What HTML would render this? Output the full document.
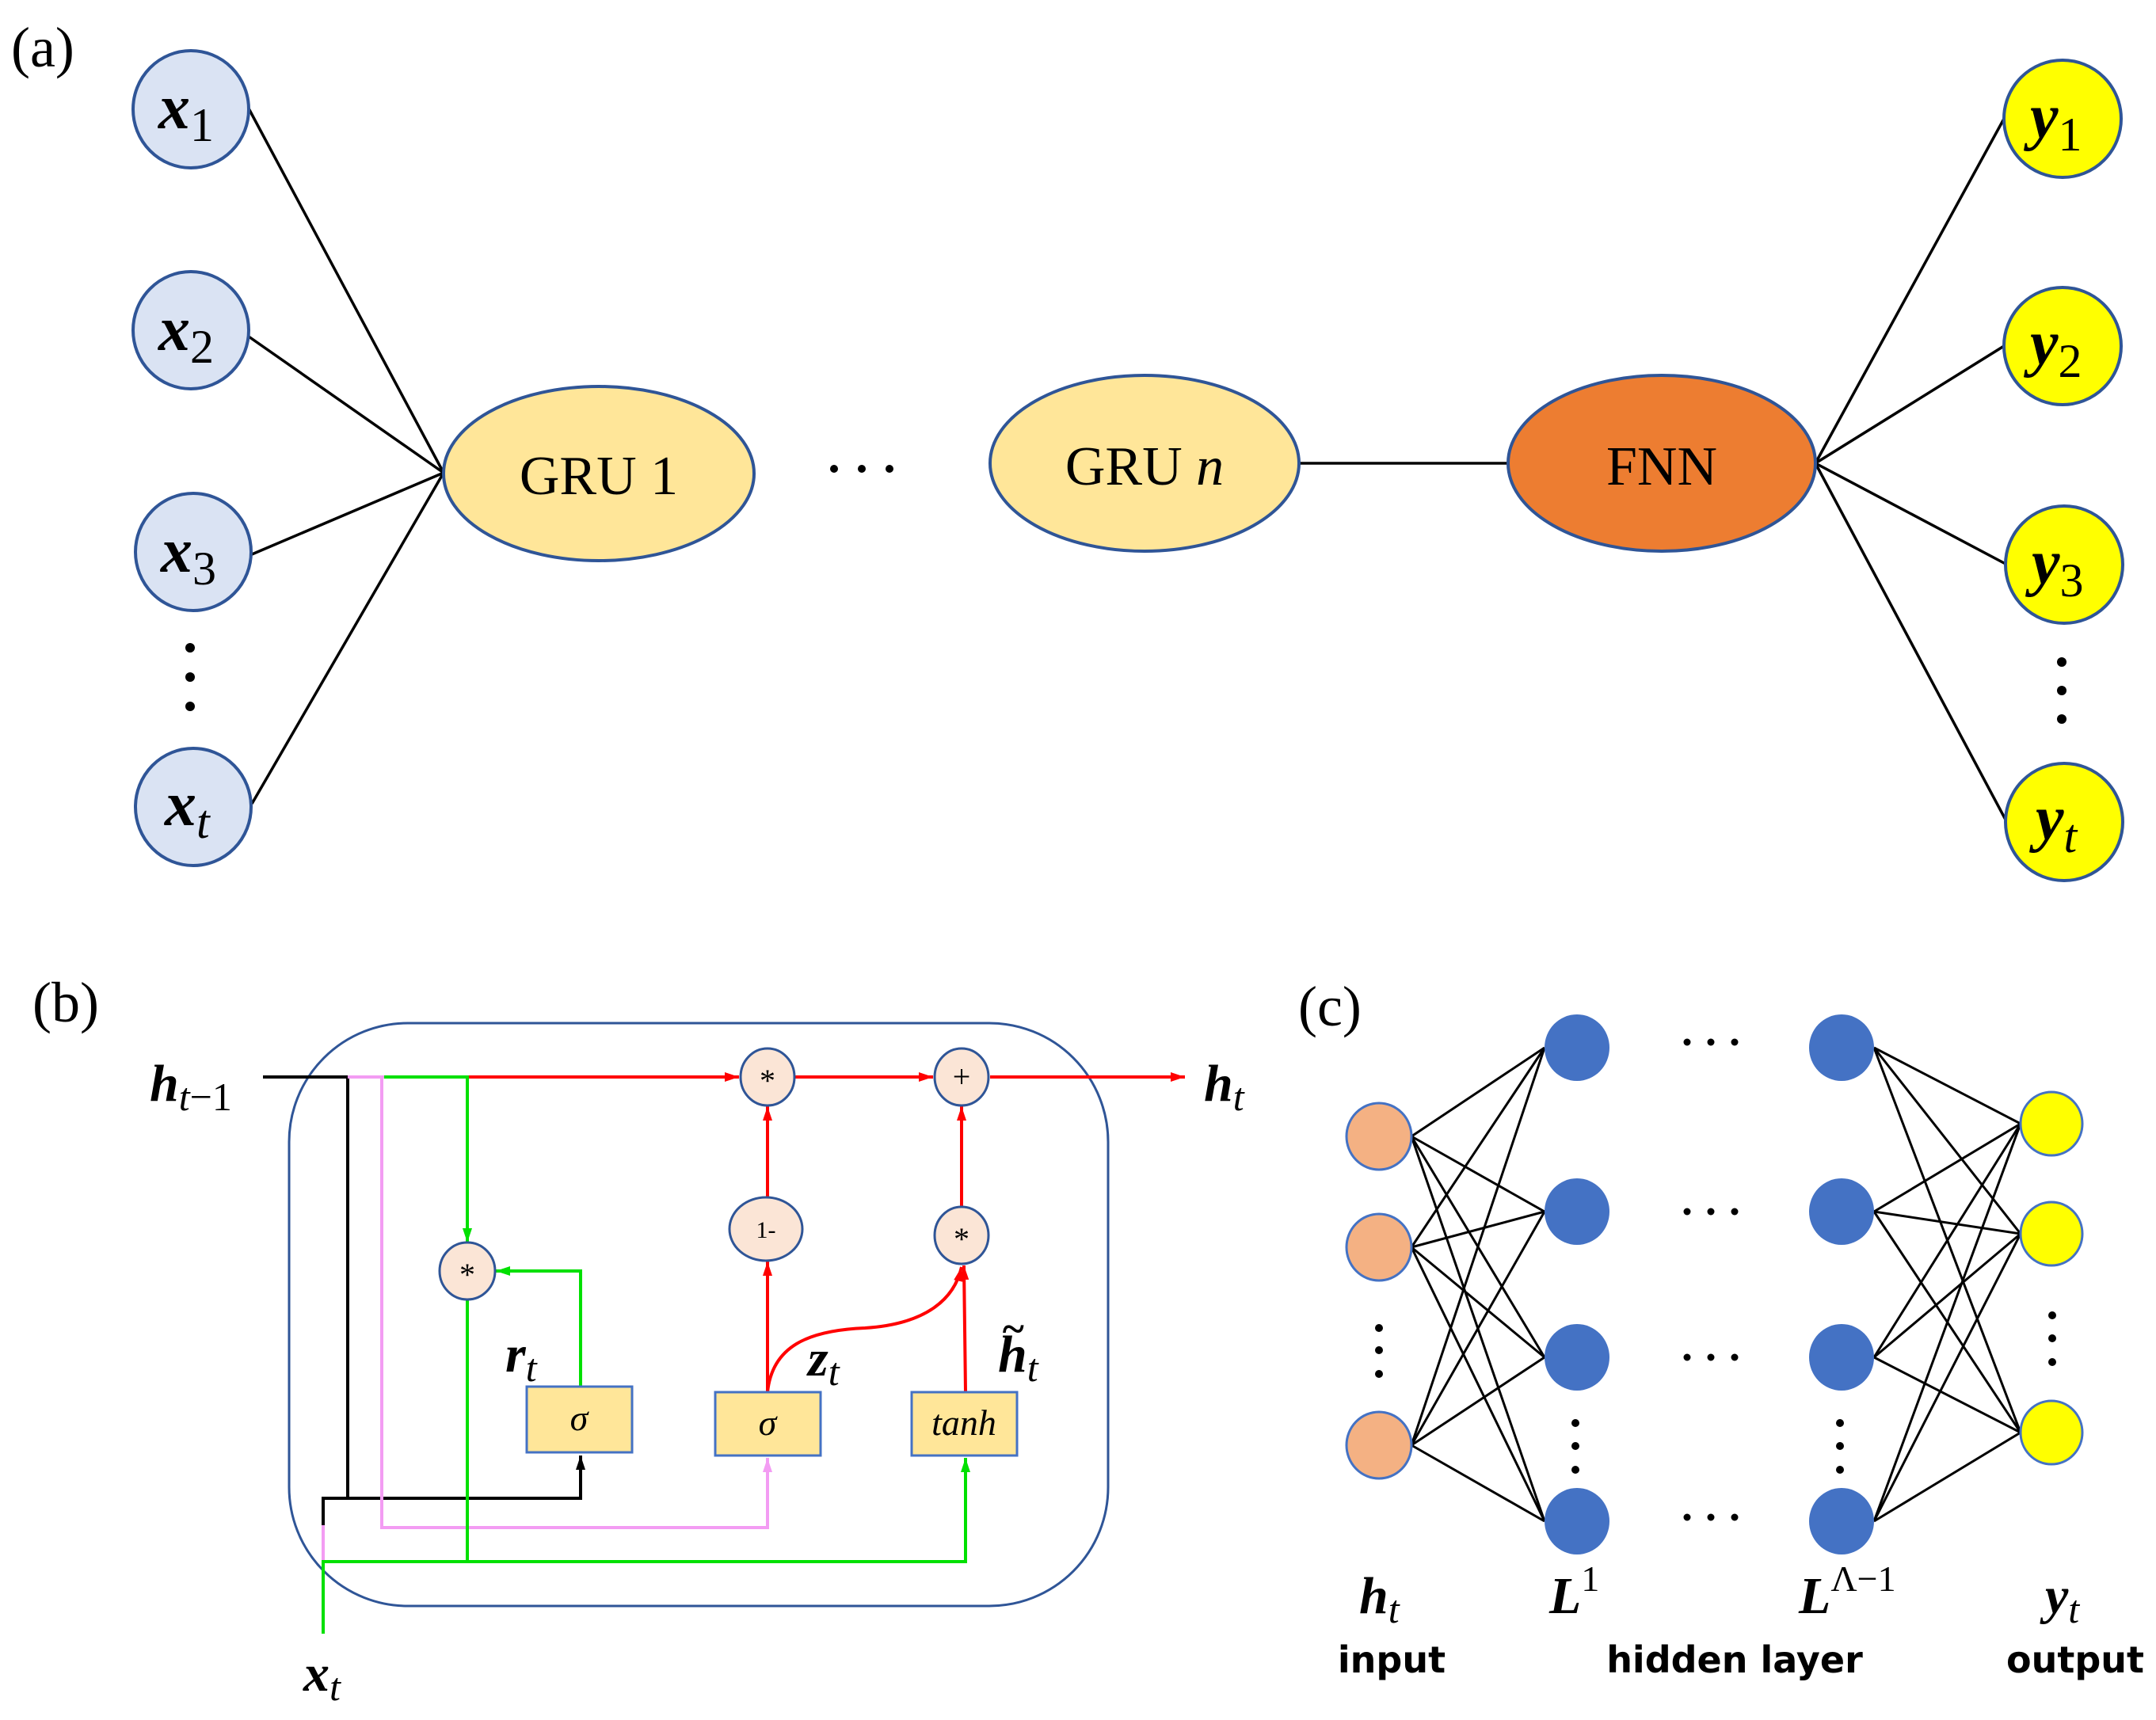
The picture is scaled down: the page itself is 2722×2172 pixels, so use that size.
<!DOCTYPE html>
<html><head><meta charset="utf-8"><style>html,body{margin:0;padding:0;background:#fff}svg{display:block}</style></head><body>
<svg width="2722" height="2172" viewBox="0 0 2722 2172" xmlns="http://www.w3.org/2000/svg" font-family="Liberation Serif, serif">
<defs>
<marker id="ar2" markerWidth="20" markerHeight="16" refX="18" refY="8" orient="auto" markerUnits="userSpaceOnUse"><path d="M0,2 L18,8 L0,14z" fill="#f00"/></marker>
<marker id="ag" markerWidth="20" markerHeight="16" refX="18" refY="8" orient="auto" markerUnits="userSpaceOnUse"><path d="M0,2 L18,8 L0,14z" fill="#00e000"/></marker>
<marker id="ap" markerWidth="20" markerHeight="16" refX="18" refY="8" orient="auto" markerUnits="userSpaceOnUse"><path d="M0,2 L18,8 L0,14z" fill="#f39cf3"/></marker>
<marker id="ak" markerWidth="20" markerHeight="16" refX="18" refY="8" orient="auto" markerUnits="userSpaceOnUse"><path d="M0,2 L18,8 L0,14z" fill="#000"/></marker>
</defs>

<!-- (a) -->
<text x="14" y="84" font-size="72">(a)</text>
<g stroke="#000" stroke-width="3.5">
<line x1="314" y1="137" x2="560" y2="597"/>
<line x1="314" y1="425" x2="560" y2="597"/>
<line x1="318" y1="700" x2="560" y2="597"/>
<line x1="318" y1="1015" x2="560" y2="597"/>
<line x1="1639" y1="585" x2="1904" y2="585"/>
<line x1="2292" y1="585" x2="2530" y2="150"/>
<line x1="2292" y1="585" x2="2530" y2="437"/>
<line x1="2292" y1="585" x2="2532" y2="712"/>
<line x1="2292" y1="585" x2="2532" y2="1035"/>
</g>
<g fill="#DAE3F3" stroke="#2F5597" stroke-width="4">
<ellipse cx="241" cy="138" rx="73" ry="74"/>
<ellipse cx="241" cy="417" rx="73" ry="74"/>
<ellipse cx="244" cy="697" rx="73" ry="74"/>
<ellipse cx="244" cy="1019" rx="73" ry="74"/>
</g>
<g font-size="80" font-weight="bold" font-style="italic">
<text x="200" y="162">x<tspan font-size="60" font-weight="normal" font-style="normal" dy="16">1</tspan></text>
<text x="200" y="442">x<tspan font-size="60" font-weight="normal" font-style="normal" dy="16">2</tspan></text>
<text x="203" y="722">x<tspan font-size="60" font-weight="normal" font-style="normal" dy="16">3</tspan></text>
<text x="208" y="1042">x<tspan font-size="60" font-style="italic" font-weight="normal" dy="16">t</tspan></text>
</g>
<g fill="#000"><circle cx="240" cy="818" r="6"/><circle cx="240" cy="855" r="6"/><circle cx="240" cy="892" r="6"/></g>
<ellipse cx="756" cy="598" rx="196" ry="110" fill="#FFE699" stroke="#2F5597" stroke-width="4"/>
<text x="756" y="624" font-size="70" text-anchor="middle">GRU 1</text>
<g fill="#000"><circle cx="1053" cy="592" r="5"/><circle cx="1088" cy="592" r="5"/><circle cx="1123" cy="592" r="5"/></g>
<ellipse cx="1445" cy="585" rx="195" ry="111" fill="#FFE699" stroke="#2F5597" stroke-width="4"/>
<text x="1445" y="612" font-size="70" text-anchor="middle">GRU <tspan font-style="italic">n</tspan></text>
<ellipse cx="2098" cy="585" rx="194" ry="111" fill="#ED7D31" stroke="#2F5597" stroke-width="4"/>
<text x="2098" y="612" font-size="70" text-anchor="middle">FNN</text>
<g fill="#FFFF00" stroke="#2F5597" stroke-width="4">
<ellipse cx="2604" cy="150" rx="74" ry="74"/>
<ellipse cx="2604" cy="437" rx="74" ry="74"/>
<ellipse cx="2606" cy="713" rx="74" ry="74"/>
<ellipse cx="2606" cy="1038" rx="74" ry="74"/>
</g>
<g font-size="80" font-weight="bold" font-style="italic">
<text x="2563" y="174">y<tspan font-size="60" font-weight="normal" font-style="normal" dy="16">1</tspan></text>
<text x="2563" y="460">y<tspan font-size="60" font-weight="normal" font-style="normal" dy="16">2</tspan></text>
<text x="2565" y="737">y<tspan font-size="60" font-weight="normal" font-style="normal" dy="16">3</tspan></text>
<text x="2570" y="1060">y<tspan font-size="60" font-weight="normal" dy="16">t</tspan></text>
</g>
<g fill="#000"><circle cx="2603" cy="836" r="6"/><circle cx="2603" cy="872" r="6"/><circle cx="2603" cy="908" r="6"/></g>

<!-- (b) -->
<text x="41" y="1290" font-size="72">(b)</text>
<rect x="365" y="1292" width="1034" height="736" rx="150" ry="150" fill="none" stroke="#2F5597" stroke-width="3"/>
<g fill="none" stroke="#000" stroke-width="4">
<polyline points="332,1360 439,1360 439,1892"/>
<polyline points="408,1926 408,1892 733,1892 733,1838" marker-end="url(#ak)"/>
</g>
<g fill="none" stroke="#f39cf3" stroke-width="4">
<line x1="439" y1="1360" x2="485" y2="1360"/>
<polyline points="482,1360 482,1929 969,1929 969,1841" marker-end="url(#ap)"/>
<polyline points="408,1926 408,1972"/>
</g>
<g fill="none" stroke="#00e000" stroke-width="4">
<line x1="485" y1="1360" x2="592" y2="1360"/>
<polyline points="590,1360 590,1569" marker-end="url(#ag)"/>
<polyline points="590,1641 590,1972"/>
<polyline points="408,2063 408,1972 1219,1972 1219,1841" marker-end="url(#ag)"/>
<polyline points="733,1751 733,1605 626,1605" marker-end="url(#ag)"/>
</g>
<g fill="none" stroke="#f00" stroke-width="4">
<line x1="592" y1="1360" x2="933" y2="1360" marker-end="url(#ar2)"/>
<line x1="1004" y1="1360" x2="1178" y2="1360" marker-end="url(#ar2)"/>
<line x1="1250" y1="1360" x2="1496" y2="1360" marker-end="url(#ar2)"/>
<line x1="969" y1="1758" x2="969" y2="1593" marker-end="url(#ar2)"/>
<line x1="969" y1="1513" x2="969" y2="1397" marker-end="url(#ar2)"/>
<line x1="1219" y1="1758" x2="1217" y2="1598" marker-end="url(#ar2)"/>
<line x1="1214" y1="1524" x2="1214" y2="1397" marker-end="url(#ar2)"/>
<path d="M969,1758 C975,1700 1020,1680 1092,1677 C1170,1672 1205,1640 1214,1600" marker-end="url(#ar2)"/>
</g>
<g fill="#FBE5D6" stroke="#2F5597" stroke-width="3">
<ellipse cx="969" cy="1360" rx="34" ry="36"/>
<ellipse cx="1214" cy="1360" rx="34" ry="36"/>
<ellipse cx="967" cy="1552" rx="46" ry="40"/>
<ellipse cx="1214" cy="1560" rx="34" ry="36"/>
<ellipse cx="590" cy="1605" rx="35" ry="36"/>
</g>
<g font-size="40" text-anchor="middle">
<text x="969" y="1378">*</text>
<text x="1214" y="1373">+</text>
<text x="967" y="1563" font-size="30">1-</text>
<text x="1214" y="1578">*</text>
<text x="590" y="1623">*</text>
</g>
<g fill="#FFE699" stroke="#4472C4" stroke-width="3">
<rect x="665" y="1751" width="133" height="83"/>
<rect x="903" y="1758" width="133" height="80"/>
<rect x="1151" y="1758" width="133" height="80"/>
</g>
<g font-size="46" font-style="italic" text-anchor="middle">
<text x="731" y="1806">σ</text>
<text x="969" y="1812">σ</text>
<text x="1217" y="1812">tanh</text>
</g>
<g font-size="66" font-weight="bold" font-style="italic">
<text x="189" y="1390">h<tspan font-size="50" font-weight="normal" dy="12">t</tspan><tspan font-size="50" font-weight="normal" font-style="normal">−1</tspan></text>
<text x="1520" y="1390">h<tspan font-size="50" font-weight="normal" dy="12">t</tspan></text>
<text x="638" y="1732">r<tspan font-size="50" font-weight="normal" dy="12">t</tspan></text>
<text x="1020" y="1737">z<tspan font-size="50" font-weight="normal" dy="12">t</tspan></text>
<text x="1260" y="1732">h<tspan font-size="50" font-weight="normal" dy="12">t</tspan></text>
<text x="1264" y="1695" font-size="52">~</text>
<text x="383" y="2135">x<tspan font-size="50" font-weight="normal" dy="12">t</tspan></text>
</g>

<!-- (c) -->
<text x="1639" y="1295" font-size="72">(c)</text>
<g stroke="#000" stroke-width="3">
<line x1="1782" y1="1435" x2="1950" y2="1323"/><line x1="1782" y1="1435" x2="1950" y2="1530"/><line x1="1782" y1="1435" x2="1950" y2="1714"/><line x1="1782" y1="1435" x2="1950" y2="1921"/>
<line x1="1782" y1="1575" x2="1950" y2="1323"/><line x1="1782" y1="1575" x2="1950" y2="1530"/><line x1="1782" y1="1575" x2="1950" y2="1714"/><line x1="1782" y1="1575" x2="1950" y2="1921"/>
<line x1="1782" y1="1825" x2="1950" y2="1323"/><line x1="1782" y1="1825" x2="1950" y2="1530"/><line x1="1782" y1="1825" x2="1950" y2="1714"/><line x1="1782" y1="1825" x2="1950" y2="1921"/>
<line x1="2366" y1="1323" x2="2551" y2="1419"/><line x1="2366" y1="1323" x2="2551" y2="1558"/><line x1="2366" y1="1323" x2="2551" y2="1809"/>
<line x1="2366" y1="1530" x2="2551" y2="1419"/><line x1="2366" y1="1530" x2="2551" y2="1558"/><line x1="2366" y1="1530" x2="2551" y2="1809"/>
<line x1="2366" y1="1714" x2="2551" y2="1419"/><line x1="2366" y1="1714" x2="2551" y2="1558"/><line x1="2366" y1="1714" x2="2551" y2="1809"/>
<line x1="2366" y1="1921" x2="2551" y2="1419"/><line x1="2366" y1="1921" x2="2551" y2="1558"/><line x1="2366" y1="1921" x2="2551" y2="1809"/>
</g>
<g fill="#F4B183" stroke="#4472C4" stroke-width="3">
<ellipse cx="1741" cy="1435" rx="41" ry="42"/><ellipse cx="1741" cy="1575" rx="41" ry="42"/><ellipse cx="1741" cy="1825" rx="41" ry="42"/>
</g>
<g fill="#4472C4">
<ellipse cx="1991" cy="1323" rx="41" ry="42"/><ellipse cx="1991" cy="1530" rx="41" ry="42"/><ellipse cx="1991" cy="1714" rx="41" ry="42"/><ellipse cx="1991" cy="1921" rx="41" ry="42"/>
<ellipse cx="2325" cy="1323" rx="41" ry="42"/><ellipse cx="2325" cy="1530" rx="41" ry="42"/><ellipse cx="2325" cy="1714" rx="41" ry="42"/><ellipse cx="2325" cy="1921" rx="41" ry="42"/>
</g>
<g fill="#FFFF00" stroke="#4472C4" stroke-width="3">
<ellipse cx="2590" cy="1419" rx="39" ry="40"/><ellipse cx="2590" cy="1558" rx="39" ry="40"/><ellipse cx="2590" cy="1809" rx="39" ry="40"/>
</g>
<g fill="#000">
<circle cx="1741" cy="1677" r="5"/><circle cx="1741" cy="1705" r="5"/><circle cx="1741" cy="1735" r="5"/>
<circle cx="1989" cy="1797" r="5"/><circle cx="1989" cy="1826" r="5"/><circle cx="1989" cy="1856" r="5"/>
<circle cx="2323" cy="1797" r="5"/><circle cx="2323" cy="1826" r="5"/><circle cx="2323" cy="1856" r="5"/>
<circle cx="2591" cy="1661" r="5"/><circle cx="2591" cy="1690" r="5"/><circle cx="2591" cy="1720" r="5"/>
<circle cx="2130" cy="1316" r="4.5"/><circle cx="2160" cy="1316" r="4.5"/><circle cx="2190" cy="1316" r="4.5"/>
<circle cx="2130" cy="1530" r="4.5"/><circle cx="2160" cy="1530" r="4.5"/><circle cx="2190" cy="1530" r="4.5"/>
<circle cx="2130" cy="1714" r="4.5"/><circle cx="2160" cy="1714" r="4.5"/><circle cx="2190" cy="1714" r="4.5"/>
<circle cx="2130" cy="1916" r="4.5"/><circle cx="2160" cy="1916" r="4.5"/><circle cx="2190" cy="1916" r="4.5"/>
</g>
<g font-size="66" font-weight="bold" font-style="italic">
<text x="1716" y="2037">h<tspan font-size="50" font-weight="normal" dy="12">t</tspan></text>
<text x="1956" y="2037">L<tspan font-size="46" font-weight="normal" font-style="normal" dy="-28">1</tspan></text>
<text x="2271" y="2037">L<tspan font-size="46" font-weight="normal" font-style="normal" dy="-28">Λ−1</tspan></text>
<text x="2582" y="2037">y<tspan font-size="50" font-weight="normal" dy="12">t</tspan></text>
</g>
<g font-family="DejaVu Sans, sans-serif" font-size="46" font-weight="bold" text-anchor="middle">
<text x="1757" y="2112">input</text>
<text x="2190" y="2112">hidden layer</text>
<text x="2620" y="2112">output</text>
</g>
</svg>
</body></html>
